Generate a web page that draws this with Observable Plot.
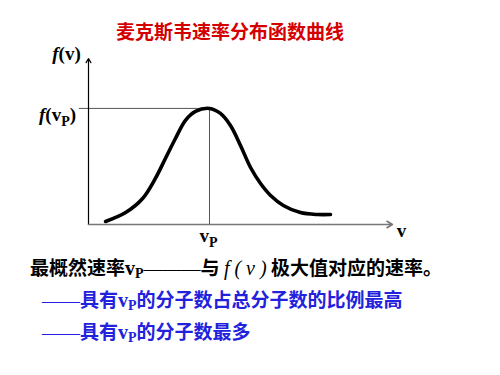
<!DOCTYPE html>
<html>
<head>
<meta charset="utf-8">
<script src="https://cdn.jsdelivr.net/npm/d3@7"></script>
<script src="https://cdn.jsdelivr.net/npm/@observablehq/plot@0.6"></script>
<style>
  body { margin: 0; background: #fff; }
  #wrap { position: relative; width: 500px; height: 375px; overflow: hidden; }
  #chart { position: absolute; left: 0; top: 0; }
  .t { position: absolute; white-space: nowrap; font-family: "Noto Sans CJK SC", sans-serif; font-weight: 700; line-height: 1; }
  .ser { font-family: "Liberation Serif", serif; font-weight: 700; font-size: 20px; line-height: 1; }
  .sub { font-size: 14px; position: relative; top: 0.22em; line-height: 1; }
  .dash { font-family: "Liberation Serif", serif; font-weight: 400; line-height: 1; }
</style>
</head>
<body>
<div id="wrap">
  <div id="chart"></div>
  <div class="t" id="title" style="left:0;width:460px;text-align:center;top:21px;font-size:19px;color:#d40000;">麦克斯韦速率分布函数曲线</div>
  <div class="t" style="left:30px;top:257px;font-size:19px;color:#000;">最概然速率<span class="ser">v<span class="sub">P</span></span><span class="dash">———</span>与 <span style="font-family:'Liberation Serif',serif;font-style:italic;font-weight:400;font-size:20px;line-height:1;">f ( v )</span> 极大值对应的速率。</div>
  <div class="t" style="left:42px;top:289px;font-size:19px;color:#2222dd;"><span class="dash">——</span>具有<span class="ser">v<span class="sub">P</span></span>的分子数占总分子数的比例最高</div>
  <div class="t" style="left:42px;top:321px;font-size:19px;color:#2222dd;"><span class="dash">——</span>具有<span class="ser">v<span class="sub">P</span></span>的分子数最多</div>
</div>
<script>
// Maxwell speed distribution curve (arbitrary units)
const speeds = [0.56, 1.22, 1.78, 2.20, 2.53, 2.86, 3.19, 3.52, 3.98, 4.34, 4.67, 5.00, 5.33, 5.66, 5.99, 6.41, 6.97, 7.53, 7.96];
const fValues = [0.026, 0.103, 0.224, 0.397, 0.569, 0.741, 0.897, 0.974, 1.0, 0.957, 0.853, 0.681, 0.491, 0.353, 0.250, 0.164, 0.103, 0.086, 0.086];
const vP = 3.98;
const fvP = 1.0;
const xMax = 10;
const yMax = 1.43;
const guideStart = -0.3;

const curve = speeds.map((v, i) => ({v, f: fValues[i]}));

const labelFont = {fontFamily: "Liberation Serif", fontWeight: "bold", fontSize: 19, fill: "#000"};

const plot = Plot.plot({
  width: 500,
  height: 375,
  marginLeft: 88,
  marginRight: 108,
  marginTop: 58,
  marginBottom: 151,
  x: {domain: [0, xMax], axis: null},
  y: {domain: [0, yMax], axis: null},
  marks: [
    Plot.ruleY([fvP], {x1: guideStart, x2: vP, stroke: "#555", strokeWidth: 1}),
    Plot.ruleX([vP], {y1: 0, y2: fvP, stroke: "#555", strokeWidth: 1}),
    Plot.arrow([0], {x1: 0, y1: 0, x2: 0, y2: yMax, stroke: "#000", strokeWidth: 1.2, headLength: 6}),
    Plot.arrow([0], {x1: 0, y1: 0, x2: xMax, y2: 0, stroke: "#777", strokeWidth: 1.6, headLength: 6}),
    Plot.line(curve, {x: "v", y: "f", curve: "catmull-rom", stroke: "#000", strokeWidth: 3.6}),
    Plot.text(["LBL_FV"], {x: 0, y: yMax, dx: -22, dy: -5, text: d => d, ...labelFont}),
    Plot.text(["LBL_FVP"], {x: 0, y: fvP, dx: -31, dy: 6, text: d => d, ...labelFont}),
    Plot.text(["LBL_V"], {x: xMax, y: 0, dx: 9, dy: 6, text: d => d, ...labelFont}),
    Plot.text(["LBL_VP"], {x: vP, y: 0, dx: -1, dy: 11, text: d => d, ...labelFont})
  ]
});
document.getElementById("chart").appendChild(plot);

const rich = {
  LBL_FV: '<tspan font-style="italic">f</tspan>(v)',
  LBL_FVP: '<tspan font-style="italic">f</tspan>(v<tspan dy="5" font-size="14">P</tspan><tspan dy="-5">)</tspan>',
  LBL_V: 'v',
  LBL_VP: 'v<tspan dy="5" font-size="14">P</tspan>'
};
d3.select(plot).selectAll("text").each(function() {
  const key = this.textContent;
  if (rich[key] !== undefined) this.innerHTML = rich[key];
});
</script>
</body>
</html>
